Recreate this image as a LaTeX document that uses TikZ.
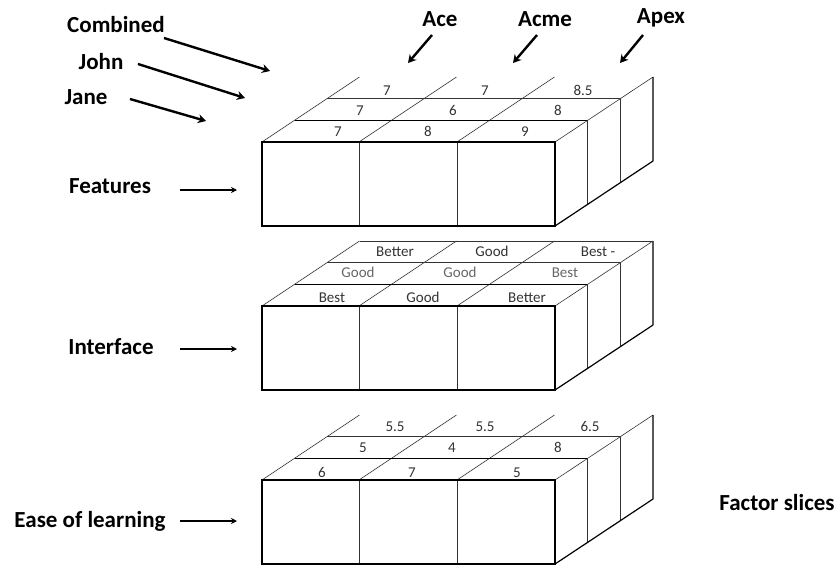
\documentclass[tikz,border=0pt]{standalone}
\usepackage{fontspec}
\setmainfont{Carlito}
\usetikzlibrary{arrows.meta}
\newcommand\slab[2]{%
  \draw[edgeln] (359,{#1}) -- (359,{#1+84}) (457,{#1}) -- (457,{#1+84});
  \draw[edgeln] (262,{#1}) -- (359.5,{#1-65}) (359,{#1}) -- (456.5,{#1-65})
                (457,{#1}) -- (554.5,{#1-65}) (555,{#1}) -- (653,{#1-65});
  \draw[edgeln] (327,{#1-43.3}) -- (620,{#1-43.3});
  \draw[face] (294.5,{#1-21.7}) -- (587.5,{#1-21.7});
  \draw[edgeln] (587.5,{#1-21.7}) -- (587.5,{#1+84-21.7})
                (620,{#1-43.3}) -- (620,{#1+84-43.3});
  \draw[face] (653,{#1-65}) -- (653,{#1+19}) (555,{#1+84}) -- (653,{#1+19});
  \draw[face] (262,{#1}) rectangle (555,{#1+84});
  \ifnum#2=1 \draw[edgeln] (359.5,{#1-65}) -- (653,{#1-65});\fi
}
\begin{document}
\begin{tikzpicture}[x=1pt,y=-1pt,
  face/.style={line width=1.2pt,black},
  edgeln/.style={line width=0.6pt,black!80},
  lbl/.style={font=\fontsize{23}{27}\selectfont\bfseries,inner sep=0pt},
  val/.style={font=\fontsize{15}{17}\selectfont,text=black!80,inner sep=0pt,
              text height=10pt,text depth=1pt},
  valb/.style={val,text=black!60},
  bigarrow/.style={line width=2.4pt,-{Stealth[length=8pt,width=9pt]}},
  smallarrow/.style={line width=1.1pt,-{Stealth[length=6pt,width=6pt]}}]
\useasboundingbox (0,0) rectangle (837,565);

% slabs
\slab{142}{0}
\slab{306}{1}
\slab{480}{0}

% top slab values
\node[val] (a11) at (338,132) {7};
\node[val] (a12) at (428,132) {8};
\node[val] (a13) at (525,132) {9};
\node[val] (a21) at (360,111) {7};
\node[val] (a22) at (453,111) {6};
\node[val] (a23) at (558,111) {8};
\node[val] (a31) at (387,91) {7};
\node[val] (a32) at (485,91) {7};
\node[val] (a33) at (583,91) {8.5};

% middle slab values
\node[val] (b11) at (332,298) {Best};
\node[val] (b12) at (423,298) {Good};
\node[val] (b13) at (527,298) {Better};
\node[valb] (b21) at (358,273) {Good};
\node[valb] (b22) at (460,273) {Good};
\node[valb] (b23) at (565,273) {Best};
\node[val] (b31) at (395,252) {Better};
\node[val] (b32) at (492,252) {Good};
\node[val] (b33) at (598,252) {Best -};

% bottom slab values
\node[val] (c11) at (322,473) {6};
\node[val] (c12) at (412,473) {7};
\node[val] (c13) at (517,473) {5};
\node[val] (c21) at (363,448) {5};
\node[val] (c22) at (452,448) {4};
\node[val] (c23) at (558,448) {8};
\node[val] (c31) at (395,427) {5.5};
\node[val] (c32) at (485,427) {5.5};
\node[val] (c33) at (590,427) {6.5};

% labels
\node[lbl] (comb) at (116,25) {Combined};
\node[lbl] (john) at (101,62) {John};
\node[lbl] (jane) at (86,97) {Jane};
\node[lbl] (ace) at (440,19) {Ace};
\node[lbl] (acme) at (545,19) {Acme};
\node[lbl] (apex) at (661,18) {Apex};
\node[lbl] (feat) at (110,186) {Features};
\node[lbl] (intf) at (111,347) {Interface};
\node[lbl] (ease) at (90,521) {Ease of learning};
\node[lbl] (fact) at (777,503) {Factor slices};

% arrow end points
\coordinate (combS) at (164,38);  \coordinate (combE) at (270,71);
\coordinate (johnS) at (138,64);  \coordinate (johnE) at (245,98);
\coordinate (janeS) at (130,99);  \coordinate (janeE) at (206,121);
\coordinate (aceS) at (432,35);   \coordinate (aceE) at (408,63);
\coordinate (acmeS) at (537,35);  \coordinate (acmeE) at (513,63);
\coordinate (apexS) at (643,35);  \coordinate (apexE) at (620,63);
\coordinate (featS) at (180,190); \coordinate (featE) at (237,190);
\coordinate (intfS) at (180,349); \coordinate (intfE) at (237,349);
\coordinate (easeS) at (180,521); \coordinate (easeE) at (237,521);

\draw[bigarrow] (combS) -- (combE);
\draw[bigarrow] (johnS) -- (johnE);
\draw[bigarrow] (janeS) -- (janeE);
\draw[bigarrow] (aceS) -- (aceE);
\draw[bigarrow] (acmeS) -- (acmeE);
\draw[bigarrow] (apexS) -- (apexE);
\draw[smallarrow] (featS) -- (featE);
\draw[smallarrow] (intfS) -- (intfE);
\draw[smallarrow,line width=1.6pt] (easeS) -- (easeE);
\end{tikzpicture}
\end{document}
